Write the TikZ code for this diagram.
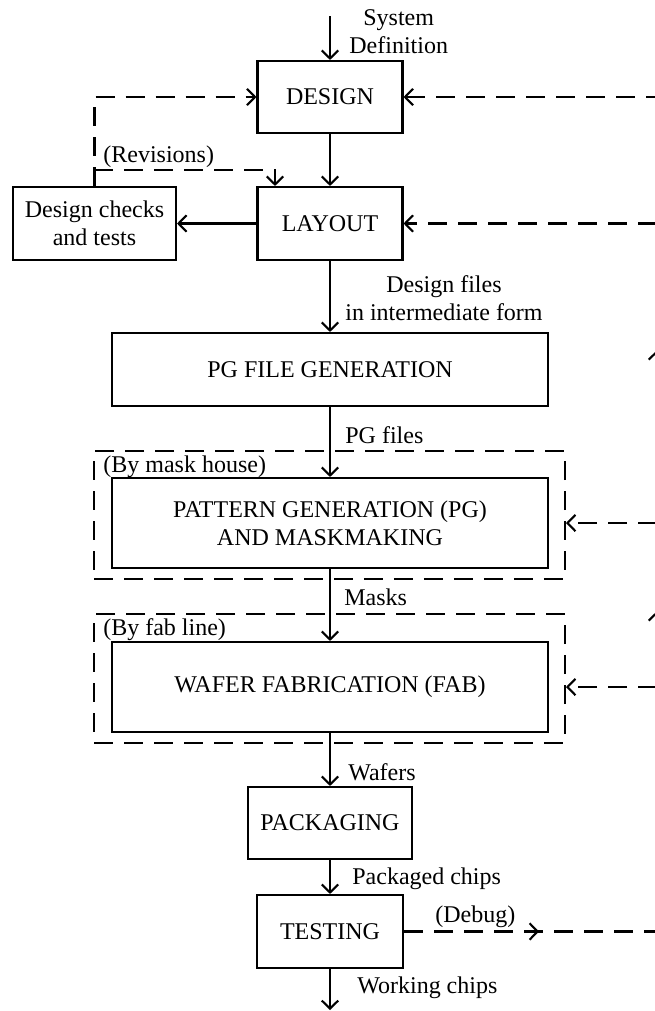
\documentclass[tikz,border=0pt]{standalone}
\usepackage{fontspec}
\setmainfont{Liberation Serif}
\usetikzlibrary{arrows.meta,decorations.markings}
\begin{document}
\begin{tikzpicture}[x=0.02cm,y=-0.02cm,
  every node/.style={font=\fontsize{13.66}{16}\selectfont},
  box/.style={draw,line width=1.2pt,inner sep=0pt,align=center},
  grp/.style={draw,line width=1.2pt,dash pattern=on 0.38cm off 0.22cm,inner sep=0pt},
  lbl/.style={inner sep=0pt,anchor=west,align=center},
  tip/.tip={Straight Barb[length=1.6mm,width=3.3mm]},
  flow/.style={line width=1.2pt,-tip},
  fback/.style={flow,dash pattern=on 0.38cm off 0.22cm},
]
\useasboundingbox (0,0) rectangle (654,1011);

% boxes
\node[box,minimum width=2.9cm,minimum height=1.44cm] (design) at (330,97) {DESIGN};
\node[box,minimum width=2.9cm,minimum height=1.46cm] (layout) at (330,223.5) {LAYOUT};
\node[box,minimum width=3.26cm,minimum height=1.46cm] (checks) at (94.5,223.5) {Design checks\\and tests};
\node[box,minimum width=8.72cm,minimum height=1.46cm] (pgfile) at (330,369.5) {PG FILE GENERATION};
\node[box,minimum width=8.72cm,minimum height=1.8cm] (pattern) at (330,523) {PATTERN GENERATION (PG)\\AND MASKMAKING};
\node[grp,minimum width=9.42cm,minimum height=2.56cm] (cont1) at (329.5,515) {};
\node[box,minimum width=8.72cm,minimum height=1.8cm] (wafer) at (330,687) {WAFER FABRICATION (FAB)};
\node[grp,minimum width=9.42cm,minimum height=2.58cm] (cont2) at (329.5,678.5) {};
\node[box,minimum width=3.28cm,minimum height=1.44cm] (pack) at (330,823) {PACKAGING};
\node[box,minimum width=2.92cm,minimum height=1.46cm] (test) at (330,931.5) {TESTING};

% labels
\node[lbl] (sysdef) at (349,32) {System\\Definition};
\node[lbl] (dfiles) at (345,298.5) {Design files\\in intermediate form};
\node[lbl] (pgf) at (345,435) {PG files};
\node[lbl] (rev) at (103,157) {(Revisions)};
\node[lbl] (bymask) at (103,467) {(By mask house)};
\node[lbl] (masks) at (344,597) {Masks};
\node[lbl] (byfab) at (103,630) {(By fab line)};
\node[lbl] (wafers) at (348,772) {Wafers};
\node[lbl] (pchips) at (352,879) {Packaged chips};
\node[lbl] (debug) at (435,917) {(Debug)};
\node[lbl] (wchips) at (357,988) {Working chips};

% coordinates
\coordinate (in) at (330,16);
\coordinate (out) at (330,1010);
\coordinate (b1) at (94.5,170);
\coordinate (b2) at (275,170);
\coordinate (fb) at (657,931.5);
\coordinate (ft) at (657,97);

% main flow
\draw[flow] (in) -- (design);
\draw[flow] (design) -- (layout);
\draw[flow] (layout) -- (pgfile);
\draw[flow] (pgfile) -- (pattern);
\draw[flow] (pattern) -- (wafer);
\draw[flow] (wafer) -- (pack);
\draw[flow] (pack) -- (test);
\draw[flow] (test) -- (out);
\draw[flow] (layout) -- (checks);

% revisions
\draw[fback] (checks.north) |- (design.west);
\draw[fback] (b1) -- (b2) -- (b2 |- layout.north);

% debug feedback
\draw[fback] (test.east) -- (fb) -- (ft) -- (design.east);
\path[decorate,decoration={markings,
   mark=at position 2.7cm with {\arrow[line width=1.2pt]{tip}},
   mark=at position 11.47cm with {\arrow[line width=1.2pt]{tip}},
   mark=at position 16.69cm with {\arrow[line width=1.2pt]{tip}}}]
   (test.east) -- (fb) -- (ft);
\draw[fback] (ft |- layout.east) -- (layout.east);
\draw[fback] (fb |- pattern.east) -- (cont1.east |- pattern.east);
\draw[fback] (fb |- wafer.east) -- (cont2.east |- wafer.east);
\end{tikzpicture}
\end{document}
